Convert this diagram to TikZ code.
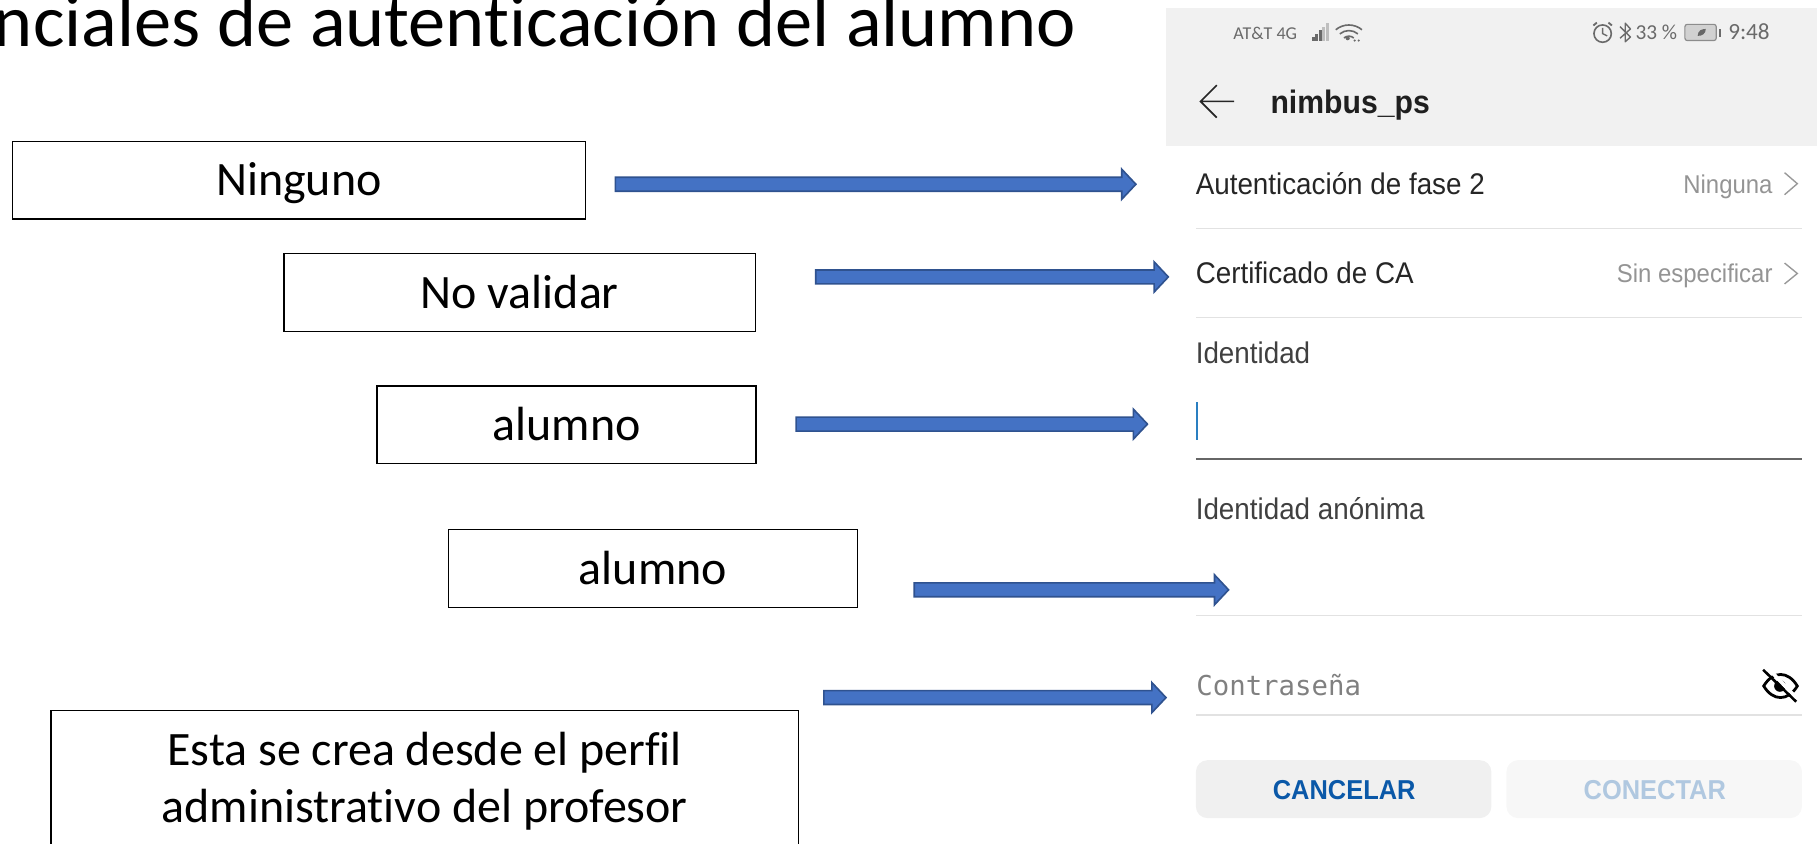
\documentclass[tikz,border=0pt]{standalone}
\usepackage{fontspec}
\setmainfont[Ligatures=CommonOff]{Carlito}
\newfontfamily\phonefont[FakeStretch=0.93]{Liberation Sans}
\newfontfamily\pmonofont{DejaVu Sans Mono}
\usetikzlibrary{calc}
\definecolor{arrowfill}{HTML}{4472C4}
\definecolor{arrowline}{HTML}{2F528F}
\definecolor{headbar}{HTML}{F1F1F1}
\definecolor{rule}{HTML}{E2E2E2}
\definecolor{statusgray}{HTML}{6A6A6A}
\definecolor{cursorblue}{HTML}{2A7FC1}
\tikzset{
 labelbox/.style={draw=black,line width=0.6pt,fill=white,inner sep=0pt,outer sep=0pt,align=flush center,
   font=\fontsize{20.7}{24.5}\selectfont,text height=16pt,text depth=2.5pt},
 blockarrow/.style={draw=arrowline,fill=arrowfill,line width=0.7pt,line join=miter,
   to path={let \p1=(\tikztostart),\p2=(\tikztotarget) in
     (\x1,\y1+3pt) -- (\x2-6.5pt,\y1+3pt) -- (\x2-6.5pt,\y1+6.5pt) -- (\x2-0.4pt,\y1) -- (\x2-6.5pt,\y1-6.5pt) -- (\x2-6.5pt,\y1-3pt) -- (\x1,\y1-3pt) -- cycle}},
 plabel/.style={anchor=base west,inner sep=0pt,text=black!85,font=\phonefont\fontsize{12.9}{14}\selectfont},
 pvalue/.style={anchor=base east,inner sep=0pt,text=black!42,font=\phonefont\fontsize{11.1}{14}\selectfont},
 pstatus/.style={anchor=base west,inner sep=0pt,text=statusgray,font=\fontsize{9.2}{11}\selectfont},
 sep/.style={draw=rule,line width=0.6pt},
 chev/.style={draw=black!40,line width=0.6pt},
 pbutton/.style={rounded corners=5pt,draw=none},
 btext/.style={anchor=base,inner sep=0pt,font=\phonefont\bfseries\fontsize{11.8}{14}\selectfont},
}
\begin{document}
\begin{tikzpicture}[x=0.5pt,y=-0.5pt]
\useasboundingbox (0,0) rectangle (1568,727.5);
% title
\node[anchor=base east,inner sep=0pt,font=\fontsize{32.1}{36}\selectfont] (title) at (929,40) {nciales de autenticación del alumno};
% phone header
\fill[headbar] (1006,7) rectangle (1568,126);
\node[pstatus,font=\fontsize{7.8}{10}\selectfont] (carrier) at (1064,34) {AT\&T 4G};
% signal
\foreach \x/\h/\c in {1132/3/statusgray,1135/6/statusgray,1138/9/statusgray,1141/12/black!25,1144.5/15/black!25}
  \fill[\c] (\x,35) rectangle ++(2.4,-\h);
% wifi
\foreach \r in {6,11,16}
  \draw[statusgray,line width=0.7pt] ({1164-\r*.707},{37-\r*.707}) .. controls ({1164-\r*.3},{37-\r*1.05}) and ({1164+\r*.3},{37-\r*1.05}) .. ({1164+\r*.707},{37-\r*.707});
\fill[statusgray] (1163,33) circle (1.8) (1169,35) circle (1) (1172.5,35) circle (1);
% alarm
\draw[statusgray,line width=0.7pt] (1383,29) circle (7.5);
\draw[statusgray,line width=0.6pt] (1383,24) -- (1383,29) -- (1387,31);
\draw[statusgray,line width=0.8pt] (1375,22) -- (1378,19.5) (1391,22) -- (1388,19.5);
% bluetooth
\draw[statusgray,line width=0.6pt,line join=round] (1398,23) -- (1407,32) -- (1402.5,36) -- (1402.5,20) -- (1407,25) -- (1398,33);
\node[pstatus] (pct) at (1411,34) {33 \%};
% battery
\draw[black!45,fill=black!18,line width=0.5pt,rounded corners=1pt] (1454,21) rectangle (1481,35);
\fill[black!60] (1465,31) .. controls (1465,26) and (1469,25) .. (1472,25) .. controls (1472,29) and (1469,31) .. cycle;
\fill[statusgray] (1483,25) rectangle (1485,32);
\node[pstatus,font=\fontsize{10}{11}\selectfont] (clock) at (1491,34) {9:48};
% back arrow and heading
\draw[black!85,line width=0.7pt,line join=miter] (1050,73.5) -- (1036,87.5) -- (1050,101.5) (1036,87.5) -- (1065,87.5);
\node[anchor=base west,inner sep=0pt,font=\phonefont\bfseries\fontsize{14}{16}\selectfont,text=black!88] (heading) at (1096,98) {nimbus\_ps};
% rows
\node[plabel] (auth) at (1031.5,168) {Autenticación de fase 2};
\node[pvalue] (ninguna) at (1530,167) {Ninguna};
\draw[chev] (1540,149) -- (1551,158.5) -- (1540,168);
\draw[sep] (1032,197) -- (1555,197);
\node[plabel] (cert) at (1031.5,245) {Certificado de CA};
\node[pvalue] (sinesp) at (1530,244) {Sin especificar};
\draw[chev] (1540,227) -- (1551,236) -- (1540,245);
\draw[sep] (1032,274) -- (1555,274);
\node[plabel,text=black!75] (ident) at (1031.5,313.5) {Identidad};
\draw[cursorblue,line width=0.7pt] (1033,347) -- (1033,380);
\draw[black!60,line width=0.9pt] (1032,396) -- (1555,396);
\node[plabel,text=black!75] (anon) at (1031.5,448.5) {Identidad anónima};
\draw[sep] (1032,531) -- (1555,531);
\node[plabel,text=black!50,font=\pmonofont\fontsize{11.8}{14}\selectfont] (pass) at (1032,600) {Contraseña};
% eye
\draw[black,line width=1.2pt] (1522,592) .. controls (1530,578.7) and (1543,578.7) .. (1551,592) .. controls (1543,605.3) and (1530,605.3) .. cycle;
\fill[black] (1536,592) circle (5);
\draw[white,line width=1.6pt] (1524,575) -- (1552,604);
\draw[black,line width=1.1pt] (1521.5,578) -- (1550,605.5);
\draw[sep] (1032,617) -- (1555,617);
% buttons
\fill[black!6,pbutton] (1032,656) rectangle (1287,706);
\fill[black!3,pbutton] (1300,656) rectangle (1555,706);
\node[btext,text={rgb,255:red,10;green,88;blue,168}] (cancel) at (1160,690) {CANCELAR};
\node[btext,text={rgb,255:red,176;green,200;blue,224}] (connect) at (1428,690) {CONECTAR};
% label boxes
\node[labelbox,minimum width=247pt,minimum height=33.5pt] (ninguno) at (258,155.5) {Ninguno};
\node[labelbox,minimum width=203.5pt,minimum height=33.5pt] (novalidar) at (448.5,252.5) {No validar};
\node[labelbox,minimum width=163.5pt,minimum height=33.5pt] (alumnoa) at (489,366.5) {alumno};
\node[labelbox,minimum width=176.5pt,minimum height=33.5pt] (alumnob) at (563.5,490.5) {alumno};
\node[labelbox,minimum width=322.5pt,minimum height=61pt,text height=,text depth=,text width=320pt] (perfil) at (366.5,674) {Esta se crea desde el perfil\\administrativo del profesor};
% arrows
\coordinate (a1s) at (531,159); \coordinate (a1e) at (981,159);
\coordinate (a2s) at (704,239); \coordinate (a2e) at (1009,239);
\coordinate (a3s) at (687,366); \coordinate (a3e) at (991,366);
\coordinate (a4s) at (789,509); \coordinate (a4e) at (1061,509);
\coordinate (a5s) at (711,602); \coordinate (a5e) at (1007,602);
\draw[blockarrow] (a1s) to (a1e);
\draw[blockarrow] (a2s) to (a2e);
\draw[blockarrow] (a3s) to (a3e);
\draw[blockarrow] (a4s) to (a4e);
\draw[blockarrow] (a5s) to (a5e);
\end{tikzpicture}
\end{document}
